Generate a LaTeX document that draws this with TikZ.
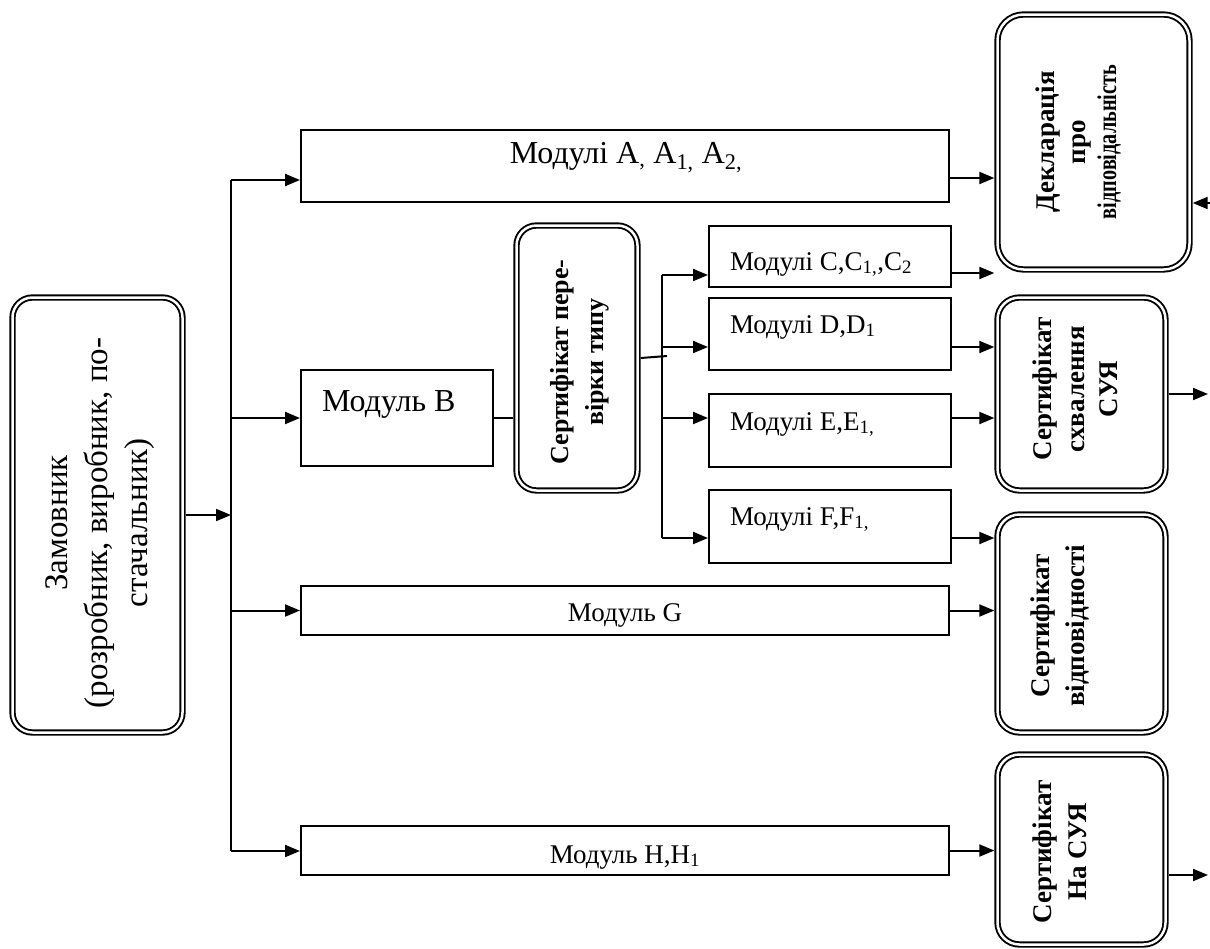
\documentclass[tikz,border=0pt]{standalone}
\usepackage{fontspec}
\usepackage{graphicx}
\setmainfont{Liberation Serif}
\usetikzlibrary{arrows.meta}

\begin{document}
\begin{tikzpicture}[x=1pt,y=-1pt,line width=2pt,
      every node/.append style={inner sep=0pt,outer sep=0pt},
      modbox/.style={draw=black,rectangle,outer sep=1pt},
      certbox/.style={draw=black,double,double distance=2.5pt,line width=1.9pt,
                      rounded corners=22pt,outer sep=3.2pt},
      modtext/.style={font=\fontsize{27}{30}\selectfont},
      certtext/.style={rotate=90,align=center,font=\bfseries\fontsize{27}{33}\selectfont},
      arr/.style={-{Triangle[length=15pt,width=12pt]}}]
    \useasboundingbox (0,0) rectangle (1210,948);

    % double framed boxes
    \node[certbox,minimum width=170pt,minimum height=435pt,rounded corners=20pt] (zam) at (97.5,515) {};
    \node[certbox,minimum width=121pt,minimum height=265pt,rounded corners=20pt] (certT) at (577,358) {};
    \node[certbox,minimum width=192pt,minimum height=255pt,rounded corners=26pt] (decl) at (1093.5,142) {};
    \node[certbox,minimum width=168pt,minimum height=193pt] (certS) at (1081.5,394) {};
    \node[certbox,minimum width=168pt,minimum height=218pt] (certV) at (1081.5,623.5) {};
    \node[certbox,minimum width=168pt,minimum height=190pt] (certN) at (1081.5,849.5) {};

    % module boxes
    \node[modbox,minimum width=648pt,minimum height=72pt] (modA) at (625,166) {};
    \node[modbox,minimum width=192pt,minimum height=96pt] (modB) at (397,418) {};
    \node[modbox,minimum width=242pt,minimum height=61pt] (modC) at (830,256.5) {};
    \node[modbox,minimum width=242pt,minimum height=72pt] (modD) at (830,334) {};
    \node[modbox,minimum width=242pt,minimum height=73pt] (modE) at (830,430.5) {};
    \node[modbox,minimum width=242pt,minimum height=73pt] (modF) at (830,526.5) {};
    \node[modbox,minimum width=648pt,minimum height=49pt] (modG) at (625,610.5) {};
    \node[modbox,minimum width=648pt,minimum height=49pt] (modH) at (625,850.5) {};

    % texts
    \node[rotate=90,align=center,font=\fontsize{33}{40}\selectfont] (zamtxt) at (100,523)
      {Замовник\\(розробник, виробник, по-\\стачальник)};
    \node[modtext,font=\fontsize{32}{36}\selectfont,anchor=base] (modAtxt) at (626,163)
      {Модулі A\textsubscript{,} A\textsubscript{1,} A\textsubscript{2,}};
    \node[modtext,font=\fontsize{32}{36}\selectfont,anchor=base west] (modBtxt) at (322,411) {Модуль B};
    \node[modtext,anchor=base west] (modCtxt) at (730,270) {Модулі C,C\textsubscript{1,},C\textsubscript{2}};
    \node[modtext,anchor=base west] (modDtxt) at (730,333) {Модулі D,D\textsubscript{1}};
    \node[modtext,anchor=base west] (modEtxt) at (730,430) {Модулі E,E\textsubscript{1,}};
    \node[modtext,anchor=base west] (modFtxt) at (730,525) {Модулі F,F\textsubscript{1,}};
    \node[modtext,anchor=base] (modGtxt) at (625,621) {Модуль G};
    \node[modtext,anchor=base] (modHtxt) at (625,863) {Модуль H,H\textsubscript{1}};

    \node[certtext,font=\bfseries\fontsize{26}{35}\selectfont] (certTtxt) at (580,362) {Сертифікат пере-\\вірки типу};
    \node[certtext,font=\bfseries\fontsize{27}{31}\selectfont] (decltxt) at (1078,142)
      {Декларація\\про\\\scalebox{0.75}[1]{відповідальність}};
    \node[certtext] (certStxt) at (1075,389) {Сертифікат\\схвалення\\СУЯ};
    \node[certtext,font=\bfseries\fontsize{27}{35}\selectfont] (certVtxt) at (1060,626) {Сертифікат\\відповідності};
    \node[certtext,font=\bfseries\fontsize{27}{35}\selectfont] (certNtxt) at (1060,852) {Сертифікат\\На СУЯ};

    % main trunk
    \coordinate (trT) at (231,180);
    \coordinate (trB) at (231,851);
    \draw (trT) -- (trB);
    \draw[arr] (zam.east) -- (zam.east -| trT);
    \draw[arr] (trT) -- (trT -| modA.west);
    \draw[arr] (modB.west -| trT) -- (modB.west);
    \draw[arr] (modG.west -| trT) -- (modG.west);
    \draw[arr] (trB) -- (trB -| modH.west);

    % type certificate branch
    \draw (modB.east) -- (modB.east -| certT.west);
    \coordinate (sbJ) at (667,356);
    \draw (certT.east) -- (sbJ);
    \coordinate (sbT) at (662,275);
    \coordinate (sbB) at (662,538);
    \coordinate (dIn) at ([yshift=-13pt]modD.west);
    \coordinate (eIn) at ([yshift=12.5pt]modE.west);
    \draw (sbT) -- (sbB);
    \draw[arr] (sbT) -- (sbT -| modC.west);
    \draw[arr] (sbT |- dIn) -- (dIn);
    \draw[arr] (sbT |- eIn) -- (eIn);
    \draw[arr] (sbB) -- (sbB -| modF.west);

    % outputs to certificates
    \coordinate (aOut) at ([yshift=-12pt]modA.east);
    \coordinate (cOut) at ([yshift=-16.5pt]modC.east);
    \coordinate (dOut) at ([yshift=-13pt]modD.east);
    \coordinate (eOut) at ([yshift=12.5pt]modE.east);
    \coordinate (fOut) at ([yshift=-11.5pt]modF.east);
    \draw[arr] (aOut) -- (aOut -| decl.west);
    \draw[arr] (cOut) -- (cOut -| decl.west);
    \draw[arr] (dOut) -- (dOut -| certS.west);
    \draw[arr] (eOut) -- (eOut -| certS.west);
    \draw[arr] (fOut) -- (fOut -| certV.west);
    \draw[arr] (modG.east) -- (modG.east -| certV.west);
    \draw[arr] (modH.east) -- (modH.east -| certN.west);

    % right side
    \coordinate (declIn) at (1210,203);
    \coordinate (sOut) at (1208,394);
    \coordinate (nOut) at (1208,875);
    \draw[arr] (declIn) -- (declIn -| decl.east);
    \draw[arr] (certS.east) -- (sOut);
    \draw[arr] (certN.east |- nOut) -- (nOut);
\end{tikzpicture}
\end{document}
